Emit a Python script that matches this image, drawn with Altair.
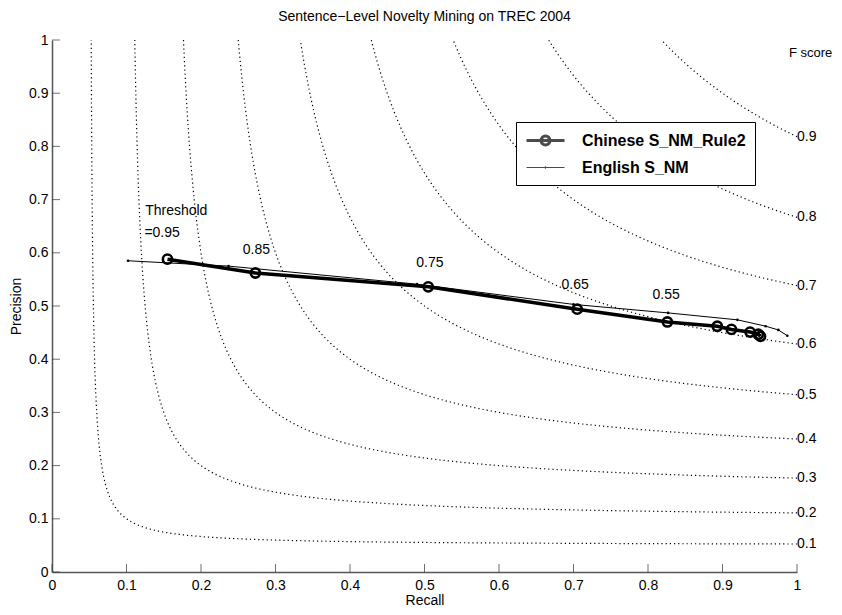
import altair as alt
import pandas as pd

# ---- data ----
series_names = ["Chinese S_NM_Rule2", "English S_NM"]

chinese_recall = [0.155, 0.273, 0.505, 0.705, 0.826, 0.893, 0.912, 0.937, 0.948, 0.951]
chinese_precision = [0.588, 0.562, 0.536, 0.494, 0.470, 0.462, 0.456, 0.451, 0.447, 0.443]

english_recall = [0.102, 0.237, 0.49, 0.70, 0.827, 0.92, 0.958, 0.975, 0.987]
english_precision = [0.585, 0.575, 0.541, 0.503, 0.487, 0.474, 0.462, 0.455, 0.444]

f_levels = [0.1, 0.2, 0.3, 0.4, 0.5, 0.6, 0.7, 0.8, 0.9]

annot_text = ["Threshold", "=0.95", "0.85", "0.75", "0.65", "0.55"]
annot_recall = [0.125, 0.124, 0.256, 0.489, 0.684, 0.806]
annot_precision = [0.678, 0.638, 0.605, 0.581, 0.539, 0.521]

tick_values = [0, 0.1, 0.2, 0.3, 0.4, 0.5, 0.6, 0.7, 0.8, 0.9, 1]

FONT = "Liberation Sans"

df_cn = pd.DataFrame({"R": chinese_recall, "P": chinese_precision, "series": series_names[0]})
df_en = pd.DataFrame({"R": english_recall, "P": english_precision, "series": series_names[1]})
df_f = pd.DataFrame({"F": f_levels})
df_ann = pd.DataFrame({"R": annot_recall, "P": annot_precision, "label": annot_text})
df_xt = pd.DataFrame({"R": tick_values})
df_yt = pd.DataFrame({"P": tick_values})
df_leg = pd.DataFrame({"series": series_names})

axis_x = alt.Axis(values=tick_values, format="~g", tickSize=0, labelPadding=6,
                  domainColor="#555", domainWidth=1.5, labelFont=FONT, labelFontSize=14,
                  labelColor="black", titleFont=FONT, titleFontSize=14, titleFontWeight="normal",
                  titleColor="black", titlePadding=1, grid=False, labelFlush=False,
                  labelOverlap=False)
axis_y = alt.Axis(values=tick_values, format="~g", tickSize=0, labelPadding=4,
                  domainColor="#555", domainWidth=1.5, labelFont=FONT, labelFontSize=14,
                  labelColor="black", titleFont=FONT, titleFontSize=14, titleFontWeight="normal",
                  titleColor="black", titlePadding=5, grid=False, labelFlush=False,
                  labelOverlap=False)

xs = alt.Scale(domain=[0, 1], nice=False)
ys = alt.Scale(domain=[0, 1], nice=False)
X = alt.X("R:Q", scale=xs, axis=axis_x, title="Recall")
Y = alt.Y("P:Q", scale=ys, axis=axis_y, title="Precision")

# iso-F reference curves (1/R + 1/P = 2/F), generated inside Vega
curves = alt.Chart(df_f).transform_calculate(
    t="sequence(0, 1.0001, 0.002)"
).transform_flatten(["t"]).transform_calculate(
    u="1 + datum.t * ((2 - datum.F) / datum.F - 1)"
).transform_calculate(
    R="1 / datum.u", P="1 / (2 / datum.F - datum.u)"
).mark_line(color="black", strokeWidth=1.2, strokeDash=[1.2, 3]).encode(
    x=X, y=Y, detail="F:N", order="t:Q"
)

f_labels = alt.Chart(df_f).transform_calculate(
    R="1", P="datum.F / (2 - datum.F)", lab="format(datum.F, '.1f')"
).mark_text(align="left", baseline="middle", dx=0, font=FONT, fontSize=14, color="black").encode(
    x=X, y=Y, text="lab:N"
)

fscore = alt.Chart(pd.DataFrame({"R": [1.0], "P": [1.0], "t": ["F score"]})).mark_text(
    align="left", baseline="top", dy=7, dx=-8, font=FONT, fontSize=13, color="black"
).encode(x=X, y=Y, text="t:N")

xticks = alt.Chart(df_xt).mark_tick(orient="vertical", size=8, thickness=1, color="#333", yOffset=-4).encode(
    x=X, y=alt.YDatum(0, scale=ys)
)
yticks = alt.Chart(df_yt).mark_tick(orient="horizontal", size=8, thickness=1, color="#333", xOffset=4).encode(
    y=Y, x=alt.XDatum(0, scale=xs)
)

cn_line = alt.Chart(df_cn).mark_line(color="black", strokeWidth=3.5).encode(x=X, y=Y)
cn_pts = alt.Chart(df_cn).mark_point(shape="circle", filled=False, size=85, strokeWidth=2.6,
                                     color="black", opacity=1).encode(x=X, y=Y)
en_line = alt.Chart(df_en).mark_line(color="black", strokeWidth=1).encode(x=X, y=Y)
en_pts = alt.Chart(df_en).mark_circle(size=7, color="black", opacity=1).encode(x=X, y=Y)

annots = alt.Chart(df_ann).mark_text(align="left", baseline="middle", font=FONT, fontSize=14,
                                     color="black").encode(x=X, y=Y, text="label:N")

# legend symbols: a line with the series marker in its middle (8 px per path unit)
path_cn = "M-2.375,0H2.375M-0.56,0A0.56,0.56 0 1,1 0.56,0A0.56,0.56 0 1,1 -0.56,0Z"
path_en = "M-2.375,0H2.375M-0.1,0A0.1,0.1 0 1,1 0.1,0A0.1,0.1 0 1,1 -0.1,0Z"

leg_common = dict(orient="none", legendX=464, legendY=82, title=None, strokeColor="black",
                  fillColor="white", padding=9, labelFont=FONT, labelFontSize=16,
                  labelFontWeight="bold", labelColor="black", symbolSize=256,
                  labelOffset=27, symbolOffset=11, rowPadding=8, labelLimit=0,
                  symbolStrokeColor="black")

legend_layer = alt.Chart(df_leg).transform_filter("false").mark_point(filled=False, color="black").encode(
    x=X, y=Y,
    shape=alt.Shape("series:N", scale=alt.Scale(domain=series_names, range=[path_cn, path_en]),
                    legend=alt.Legend(**leg_common)),
    strokeWidth=alt.StrokeWidth("series:N", scale=alt.Scale(domain=series_names, range=[3, 1]),
                                legend=alt.Legend(**leg_common)),
)

chart = alt.layer(
    curves, f_labels, fscore, xticks, yticks, cn_line, cn_pts, en_line, en_pts, annots, legend_layer
).properties(
    width=745, height=532,
    title=alt.TitleParams("Sentence\u2212Level Novelty Mining on TREC 2004", font=FONT, fontSize=14,
                          fontWeight="normal", color="black", anchor="middle", frame="group", offset=9),
    autosize=alt.AutoSizeParams(type="none"),
    padding={"left": 44, "top": 32, "right": 37, "bottom": 35},
).configure_view(stroke=None)

chart.save("out.html", embed_options={"renderer": "svg", "actions": False})
